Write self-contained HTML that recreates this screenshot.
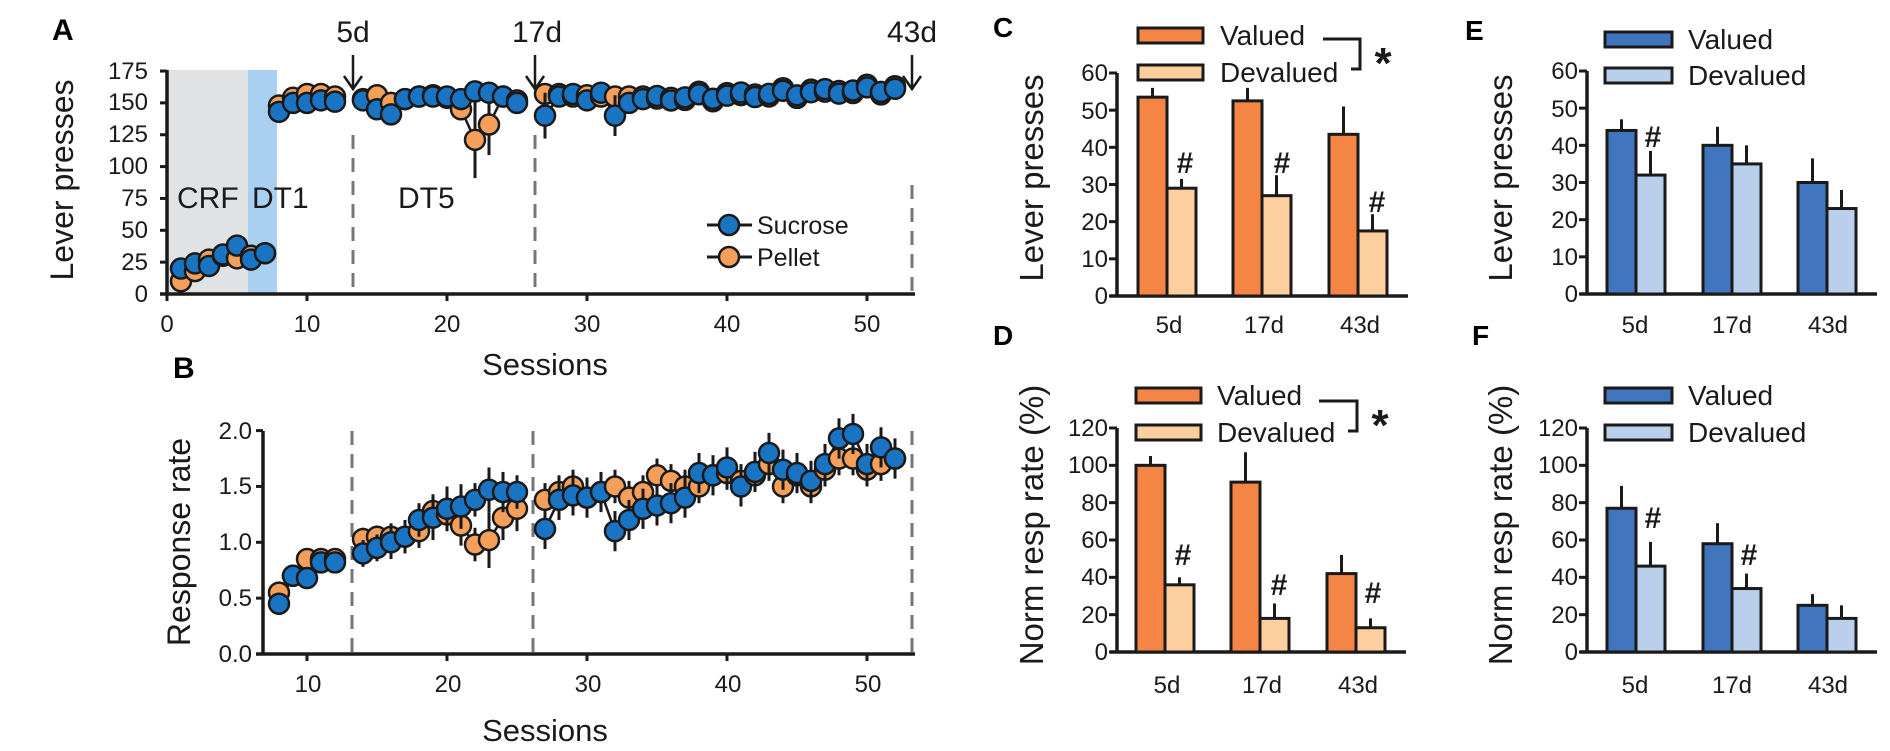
<!DOCTYPE html>
<html><head><meta charset="utf-8"><style>
html,body{margin:0;padding:0;background:#fff;}
svg{display:block;font-family:"Liberation Sans",sans-serif;}
.t{font-size:24px;fill:#1a1a1a;}
.n{font-size:24px;fill:#1a1a1a;}
</style></head><body>
<svg id="s" width="1890" height="751" viewBox="0 0 1890 751" xmlns="http://www.w3.org/2000/svg">
<rect x="167" y="70" width="81" height="224" fill="#e1e2e4"/>
<rect x="248" y="70" width="29" height="224" fill="#a9d0f0"/>
<g stroke="#777" stroke-width="3" stroke-dasharray="14,9">
<line x1="353" y1="135" x2="353" y2="294"/>
<line x1="535" y1="135" x2="535" y2="294"/>
<line x1="912" y1="185" x2="912" y2="294"/>
<line x1="352" y1="431" x2="352" y2="654"/>
<line x1="533" y1="431" x2="533" y2="654"/>
<line x1="912" y1="431" x2="912" y2="654"/>
</g>
<text x="52" y="40" font-size="30" font-weight="bold" fill="#000">A</text>
<g stroke="#1a1a1a" stroke-width="3.5" fill="none">
<line x1="167" y1="70" x2="167" y2="294"/>
<line x1="160" y1="294" x2="915" y2="294"/>
</g>
<g id="aticks" stroke="#1a1a1a" stroke-width="3"></g>
<g class="n" text-anchor="end">
<text x="148" y="302">0</text><text x="148" y="270">25</text><text x="148" y="238">50</text><text x="148" y="206">75</text>
<text x="148" y="174">100</text><text x="148" y="142">125</text><text x="148" y="110">150</text><text x="148" y="79">175</text>
</g>
<g class="n" text-anchor="middle">
<text x="167" y="332">0</text><text x="307" y="332">10</text><text x="447" y="332">20</text><text x="587" y="332">30</text><text x="727" y="332">40</text><text x="867" y="332">50</text>
</g>
<text transform="translate(73,180) rotate(-90)" text-anchor="middle" font-size="32" fill="#1a1a1a">Lever presses</text>
<text x="545" y="375" text-anchor="middle" font-size="31" fill="#1a1a1a">Sessions</text>
<text x="177" y="208" font-size="30" fill="#1a1a1a">CRF</text>
<text x="252" y="208" font-size="30" fill="#1a1a1a">DT1</text>
<text x="398" y="208" font-size="30" fill="#1a1a1a">DT5</text>
<text x="353" y="42" text-anchor="middle" font-size="30" fill="#1a1a1a">5d</text>
<text x="537" y="42" text-anchor="middle" font-size="30" fill="#1a1a1a">17d</text>
<text x="912" y="42" text-anchor="middle" font-size="30" fill="#1a1a1a">43d</text>
<g stroke="#1a1a1a" stroke-width="2.5" fill="none">
<line x1="353" y1="55" x2="353" y2="88"/><polyline points="344,76 353,89 362,76"/>
<line x1="535" y1="55" x2="535" y2="88"/><polyline points="526,76 535,89 544,76"/>
<line x1="912" y1="55" x2="912" y2="88"/><polyline points="903,76 912,89 921,76"/>
</g>
<g id="A"></g>
<g stroke="#1a1a1a" stroke-width="3"><line x1="707" y1="225" x2="752" y2="225"/><line x1="707" y1="257" x2="752" y2="257"/></g>
<circle cx="729" cy="225" r="10" fill="#1a74c4" stroke="#1a1a1a" stroke-width="2.5"/>
<circle cx="729" cy="257" r="10" fill="#f4a05a" stroke="#1a1a1a" stroke-width="2.5"/>
<text x="757" y="234" font-size="25" fill="#1a1a1a">Sucrose</text>
<text x="757" y="266" font-size="25" fill="#1a1a1a">Pellet</text>

<text x="173" y="378" font-size="30" font-weight="bold" fill="#000">B</text>
<g stroke="#1a1a1a" stroke-width="3.5" fill="none">
<line x1="263" y1="431" x2="263" y2="654"/>
<line x1="256" y1="654" x2="915" y2="654"/>
</g>
<g id="bticks" stroke="#1a1a1a" stroke-width="3"></g>
<g class="n" text-anchor="end">
<text x="252" y="662">0.0</text><text x="252" y="606">0.5</text><text x="252" y="550">1.0</text><text x="252" y="494">1.5</text><text x="252" y="439">2.0</text>
</g>
<g class="n" text-anchor="middle">
<text x="308" y="692">10</text><text x="448" y="692">20</text><text x="588" y="692">30</text><text x="728" y="692">40</text><text x="868" y="692">50</text>
</g>
<text transform="translate(190,542) rotate(-90)" text-anchor="middle" font-size="32" fill="#1a1a1a">Response rate</text>
<text x="545" y="741" text-anchor="middle" font-size="31" fill="#1a1a1a">Sessions</text>
<g id="B"></g>

<g id="bars"></g>
<text x="993" y="37" font-size="28" font-weight="bold" fill="#000">C</text>
<text x="993" y="345" font-size="28" font-weight="bold" fill="#000">D</text>
<text x="1465" y="40" font-size="28" font-weight="bold" fill="#000">E</text>
<text x="1472" y="345" font-size="28" font-weight="bold" fill="#000">F</text>
<text transform="translate(1043,178) rotate(-90)" text-anchor="middle" font-size="33" fill="#1a1a1a">Lever presses</text>
<text transform="translate(1043,525) rotate(-90)" text-anchor="middle" font-size="33" fill="#1a1a1a">Norm resp rate (%)</text>
<text transform="translate(1512,178) rotate(-90)" text-anchor="middle" font-size="33" fill="#1a1a1a">Lever presses</text>
<text transform="translate(1512,525) rotate(-90)" text-anchor="middle" font-size="33" fill="#1a1a1a">Norm resp rate (%)</text>
<g class="t" text-anchor="middle">
<text x="1169" y="333">5d</text><text x="1264" y="333">17d</text><text x="1360" y="333">43d</text>
<text x="1167" y="693">5d</text><text x="1262" y="693">17d</text><text x="1358" y="693">43d</text>
<text x="1635" y="333">5d</text><text x="1732" y="333">17d</text><text x="1828" y="333">43d</text>
<text x="1635" y="693">5d</text><text x="1732" y="693">17d</text><text x="1828" y="693">43d</text>
</g>
<g class="t" text-anchor="end">
<text x="1108" y="304">0</text><text x="1108" y="267">10</text><text x="1108" y="230">20</text><text x="1108" y="193">30</text><text x="1108" y="156">40</text><text x="1108" y="119">50</text><text x="1108" y="81">60</text>
<text x="1108" y="660">0</text><text x="1108" y="623">20</text><text x="1108" y="585">40</text><text x="1108" y="548">60</text><text x="1108" y="511">80</text><text x="1108" y="473">100</text><text x="1108" y="436">120</text>
<text x="1578" y="302">0</text><text x="1578" y="265">10</text><text x="1578" y="228">20</text><text x="1578" y="191">30</text><text x="1578" y="154">40</text><text x="1578" y="117">50</text><text x="1578" y="79">60</text>
<text x="1578" y="660">0</text><text x="1578" y="623">20</text><text x="1578" y="585">40</text><text x="1578" y="548">60</text><text x="1578" y="511">80</text><text x="1578" y="473">100</text><text x="1578" y="436">120</text>
</g>
<g stroke="#1a1a1a" stroke-width="3">
<rect x="1138" y="28" width="65" height="15" fill="#f58544"/><rect x="1138" y="65" width="65" height="15" fill="#fdcf9e"/>
<rect x="1136" y="388" width="65" height="15" fill="#f58544"/><rect x="1136" y="425" width="65" height="15" fill="#fdcf9e"/>
<rect x="1605" y="32" width="67" height="15" fill="#4176bf"/><rect x="1605" y="68" width="67" height="15" fill="#b9cfec"/>
<rect x="1605" y="388" width="67" height="15" fill="#4176bf"/><rect x="1605" y="425" width="67" height="15" fill="#b9cfec"/>
<polyline fill="none" points="1323,39 1360,39 1360,69 1351,69"/>
<polyline fill="none" points="1319,401 1357,401 1357,431 1348,431"/>
</g>
<g font-size="28" fill="#1a1a1a">
<text x="1220" y="45">Valued</text><text x="1220" y="82">Devalued</text>
<text x="1217" y="405">Valued</text><text x="1217" y="442">Devalued</text>
<text x="1688" y="49">Valued</text><text x="1688" y="85">Devalued</text>
<text x="1688" y="405">Valued</text><text x="1688" y="442">Devalued</text>
</g>
<text x="1383" y="78" text-anchor="middle" font-size="44" font-weight="bold" fill="#1a1a1a">*</text>
<text x="1380" y="440" text-anchor="middle" font-size="44" font-weight="bold" fill="#1a1a1a">*</text>
<g font-size="30" font-weight="bold" fill="#1a1a1a" text-anchor="middle">
<text x="1185" y="173">#</text><text x="1282" y="173">#</text><text x="1377" y="212">#</text>
<text x="1183" y="565">#</text><text x="1279" y="595">#</text><text x="1373" y="603">#</text>
<text x="1653" y="147">#</text>
<text x="1653" y="528">#</text><text x="1749" y="565">#</text>
</g>
</svg>
<script>
var NS="http://www.w3.org/2000/svg";
function el(p,t,a){var e=document.createElementNS(NS,t);for(var k in a)e.setAttribute(k,a[k]);p.appendChild(e);return e;}
var at=document.getElementById('aticks');
for(var v=0;v<=175;v+=25){var y=294-v*1.274;el(at,'line',{x1:160,y1:y,x2:167,y2:y});}
for(var s=0;s<=50;s+=10){var x=167+14*s;el(at,'line',{x1:x,y1:294,x2:x,y2:301});}
var bt=document.getElementById('bticks');
for(var v=0;v<=2;v+=0.5){var y=654-v*111.7;el(bt,'line',{x1:256,y1:y,x2:263,y2:y});}
for(var s=10;s<=50;s+=10){var x=167+14*s;el(bt,'line',{x1:x,y1:654,x2:x,y2:661});}
var BL="#1a74c4",OR="#f4a05a",K="#1a1a1a";
function series(g,segs,fx,fy){
  segs.forEach(function(seg){
    var pb=[],po=[];
    seg.forEach(function(d){pb.push(fx(d[0])+','+fy(d[1]));po.push(fx(d[0])+','+fy(d[2]));});
    el(g,'polyline',{points:po.join(' '),fill:'none',stroke:K,'stroke-width':2.5});
    el(g,'polyline',{points:pb.join(' '),fill:'none',stroke:K,'stroke-width':2.5});
  });
  segs.forEach(function(seg){seg.forEach(function(d){
    var x=fx(d[0]);
    if(d[4])el(g,'line',{x1:x,y1:fy(d[2]-d[4]),x2:x,y2:fy(d[2]+d[4]),stroke:K,'stroke-width':3});
    el(g,'circle',{cx:x,cy:fy(d[2]),r:10,fill:OR,stroke:K,'stroke-width':2.5});
    if(d[3])el(g,'line',{x1:x,y1:fy(d[1]-d[3]),x2:x,y2:fy(d[1]+d[3]),stroke:K,'stroke-width':3});
    el(g,'circle',{cx:x,cy:fy(d[1]),r:10,fill:BL,stroke:K,'stroke-width':2.5});
  });});
}
var fx=function(s){return 167+14*s;};
var A1=[[1,20,10],[2,24,18],[3,22,27],[4,31,30],[5,38,28],[6,27,30],[7,32,32]];
var A2=[[8,143,148],[9,150,154],[10,150,157],[11,152,157],[12,151,155]];
var A3=[[14,152,153],[15,145,156],[16,141,150],[17,153,153],[18,155,155],[19,155,156],[20,155,154],[21,153,145],[22,159,121,0,30],[23,158,133,0,24],[24,155,155],[25,150,152]];
var A4=[[27,140,157,18],[28,155,157],[29,157,155],[30,152,156],[31,158,155],[32,140,155,16],[33,150,155]];
for(var s=34;s<=52;s++){var b=153+(s-34)*0.45+((s%3)-1)*2;A4.push([s,b,b+2-(s%2)*4]);}
series(document.getElementById('A'),[A1,A2,A3,A4],fx,function(v){return 294-v*1.274;});
var B1=[[8,.45,.55],[9,.7,.7],[10,.68,.85],[11,.82,.85],[12,.82,.85]];
var B2=[[14,.9,1.03,.12,.1],[15,.95,1.05,.12,.1],[16,1,1.05,.15,.12],[17,1.05,1.05,.15,.12],[18,1.2,1.1,.15,.15],[19,1.22,1.28,.2,.15],[20,1.3,1.25,.2,.15],[21,1.32,1.15,.2,.18],[22,1.38,.98,.15,.15],[23,1.47,1.02,.2,.25],[24,1.45,1.22,.18,.2],[25,1.45,1.3,.15,.2]];
var bb=[[27,1.12,1.38],[28,1.38,1.45],[29,1.42,1.5],[30,1.4,1.4],[31,1.45,1.45],[32,1.1,1.5],[33,1.2,1.4],[34,1.3,1.45],[35,1.33,1.6],[36,1.35,1.55],[37,1.4,1.5],[38,1.62,1.5],[39,1.6,1.6],[40,1.67,1.62],[41,1.5,1.55],[42,1.63,1.6],[43,1.8,1.7],[44,1.65,1.5],[45,1.62,1.6],[46,1.55,1.5],[47,1.7,1.65],[48,1.93,1.75],[49,1.97,1.75],[50,1.7,1.65],[51,1.85,1.7],[52,1.75,1.75]];
bb.forEach(function(d){d.push(.18,.15);});
series(document.getElementById('B'),[B1,B2,bb],fx,function(v){return 654-v*111.7;});
var g=document.getElementById('bars');
function panel(ax,y0,yTop,max,step,xs,w,vals,errs,c1,c2,xEnd){
  var sc=(y0-yTop)/max;
  el(g,'line',{x1:ax,y1:yTop,x2:ax,y2:y0,stroke:K,'stroke-width':3.5});
  el(g,'line',{x1:ax-7,y1:y0,x2:xEnd,y2:y0,stroke:K,'stroke-width':3.5});
  for(var v=0;v<=max;v+=step){var y=y0-v*sc;el(g,'line',{x1:ax-8,y1:y,x2:ax,y2:y,stroke:K,'stroke-width':3});}
  for(var i=0;i<3;i++){for(var j=0;j<2;j++){
    var x=xs[i]+j*w,top=y0-vals[j][i]*sc,et=y0-errs[j][i]*sc;
    el(g,'line',{x1:x+w/2,y1:et,x2:x+w/2,y2:top,stroke:K,'stroke-width':3});
    el(g,'rect',{x:x,y:top,width:w,height:y0-top,fill:j?c2:c1,stroke:K,'stroke-width':3});
  }}
}
panel(1117,296,73,60,10,[1138,1233,1329],29,[[53.5,52.5,43.5],[29,27,17.5]],[[56,56,51],[31.5,32.5,22]],"#f58544","#fdcf9e",1408);
panel(1117,652,428,120,20,[1136,1231,1327],29,[[100,91,42],[36,18,13]],[[105,107,52],[40,26,18]],"#f58544","#fdcf9e",1406);
panel(1587,294,71,60,10,[1607,1703,1798],29,[[44,40,30],[32,35,23]],[[47,45,36.5],[38.5,40,28]],"#4176bf","#b9cfec",1877);
panel(1587,652,428,120,20,[1607,1703,1798],29,[[77,58,25],[46,34,18]],[[89,69,31],[59,42,25]],"#4176bf","#b9cfec",1877);
</script>
</body></html>
